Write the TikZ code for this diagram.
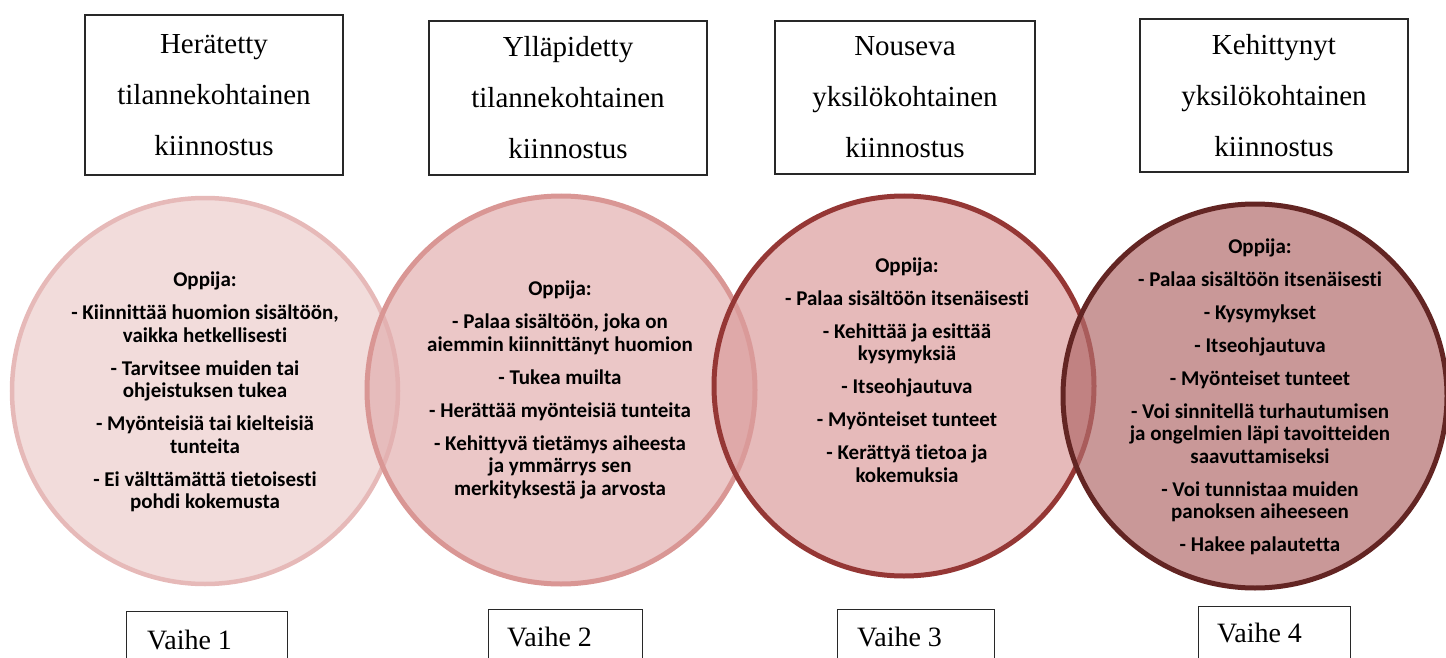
\documentclass[tikz,border=0pt]{standalone}
\usepackage{fontspec}
\setmainfont{Liberation Serif}
\newfontfamily\carl[Ligatures=NoCommon]{Carlito}
\definecolor{fillA}{RGB}{236,205,204}
\definecolor{fillB}{RGB}{226,175,175}
\definecolor{fillC}{RGB}{219,156,156}
\definecolor{fillD}{RGB}{178,108,108}
\definecolor{lineA}{RGB}{230,185,184}
\definecolor{lineB}{RGB}{217,150,148}
\definecolor{lineC}{RGB}{149,55,53}
\definecolor{lineD}{RGB}{99,37,35}
\definecolor{boxline}{RGB}{40,40,40}
\tikzset{
  stagecircle/.style={circle, fill opacity=0.7, line width=5pt, inner sep=0pt},
  headbox/.style={draw=boxline, line width=1.2pt, fill=white, align=center, inner sep=0pt,
    font=\fontsize{29}{51}\selectfont},
  phasebox/.style={draw=boxline, line width=1.2pt, fill=white, inner sep=0pt, anchor=north west},
  phasetext/.style={anchor=west, inner sep=0pt, font=\fontsize{28}{33}\selectfont},
  circtext/.style={align=center, inner sep=0pt, text opacity=1,
    font=\carl\bfseries\fontsize{21}{22.5}\selectfont},
}
\begin{document}
\begin{tikzpicture}[x=1pt,y=-1pt]
\useasboundingbox (0,0) rectangle (1446,658);
\clip (0,0) rectangle (1446,658);

% header boxes
\node[headbox, minimum width=258pt, minimum height=160pt] (h1) at (214,95) {Herätetty\\tilannekohtainen\\kiinnostus};
\node[headbox, minimum width=278pt, minimum height=154pt] (h2) at (568,98) {Ylläpidetty\\tilannekohtainen\\kiinnostus};
\node[headbox, minimum width=260pt, minimum height=153pt] (h3) at (905,97.5) {Nouseva\\yksilökohtainen\\kiinnostus};
\node[headbox, minimum width=268pt, minimum height=153pt] (h4) at (1274,95.5) {Kehittynyt\\yksilökohtainen\\kiinnostus};

% circles
\node[stagecircle, fill=fillA, draw=lineA, line width=4.5pt, minimum size=386pt] (c1) at (205,391) {};
\node[stagecircle, fill=fillB, draw=lineB, minimum size=388pt] (c2) at (561,390) {};
\node[stagecircle, fill=fillC, draw=lineC, minimum size=380pt] (c3) at (904,386) {};
\node[stagecircle, fill=fillD, draw=lineD, minimum size=384pt] (c4) at (1255,396) {};

% circle texts
\node[circtext] (t1) at (205,392) {Oppija:\\[10.5pt]
- Kiinnittää huomion sisältöön,\\ vaikka hetkellisesti\\[10.5pt]
- Tarvitsee muiden tai\\ ohjeistuksen tukea\\[10.5pt]
- Myönteisiä tai kielteisiä\\ tunteita\\[10.5pt]
- Ei välttämättä tietoisesti\\ pohdi kokemusta};
\node[circtext] (t2) at (560,390) {Oppija:\\[10.5pt]
- Palaa sisältöön, joka on\\ aiemmin kiinnittänyt huomion\\[10.5pt]
- Tukea muilta\\[10.5pt]
- Herättää myönteisiä tunteita\\[10.5pt]
- Kehittyvä tietämys aiheesta\\ ja ymmärrys sen\\ merkityksestä ja arvosta};
\node[circtext] (t3) at (907,370) {Oppija:\\[10.5pt]
- Palaa sisältöön itsenäisesti\\[10.5pt]
- Kehittää ja esittää\\ kysymyksiä\\[10.5pt]
- Itseohjautuva\\[10.5pt]
- Myönteiset tunteet\\[10.5pt]
- Kerättyä tietoa ja\\ kokemuksia};
\node[circtext] (t4) at (1260,397) {Oppija:\\[10.5pt]
- Palaa sisältöön itsenäisesti\\[10.5pt]
- Kysymykset\\[10.5pt]
- Itseohjautuva\\[10.5pt]
- Myönteiset tunteet\\[10.5pt]
- Voi sinnitellä turhautumisen\\ ja ongelmien läpi tavoitteiden\\ saavuttamiseksi\\[10.5pt]
- Voi tunnistaa muiden\\ panoksen aiheeseen\\[10.5pt]
- Hakee palautetta};

% phase boxes
\node[phasebox, minimum width=161pt, minimum height=70pt] (v1) at (126,611) {};
\node[phasebox, minimum width=154pt, minimum height=70pt] (v2) at (488,609) {};
\node[phasebox, minimum width=157pt, minimum height=70pt] (v3) at (837,609) {};
\node[phasebox, minimum width=152pt, minimum height=70pt] (v4) at (1198,606) {};
\node[phasetext] (p1) at (147,640) {Vaihe 1};
\node[phasetext] (p2) at (507,637) {Vaihe 2};
\node[phasetext] (p3) at (857,637) {Vaihe 3};
\node[phasetext] (p4) at (1217,633) {Vaihe 4};
\end{tikzpicture}
\end{document}
